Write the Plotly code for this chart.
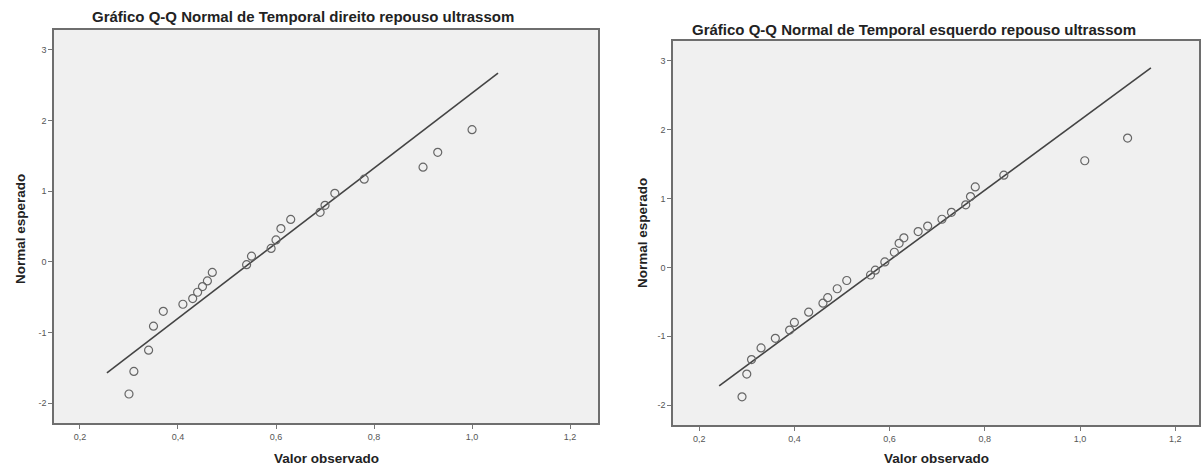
import plotly.graph_objects as go

# ---- data ----
left_title = "Gráfico Q-Q Normal de Temporal direito repouso ultrassom"
right_title = "Gráfico Q-Q Normal de Temporal esquerdo repouso ultrassom"
x_axis_title = "Valor observado"
y_axis_title = "Normal esperado"

left_obs = [0.30, 0.31, 0.34, 0.35, 0.37, 0.41, 0.43, 0.44, 0.45, 0.46, 0.47, 0.54,
            0.55, 0.59, 0.60, 0.61, 0.63, 0.69, 0.70, 0.72, 0.78, 0.90, 0.93, 1.00]
left_exp = [-1.87, -1.55, -1.25, -0.91, -0.70, -0.60, -0.52, -0.43, -0.35, -0.27, -0.15, -0.04,
            0.08, 0.19, 0.31, 0.47, 0.60, 0.70, 0.80, 0.97, 1.17, 1.34, 1.55, 1.87]
left_line_x = [0.255, 1.053]
left_line_y = [-1.57, 2.67]

right_obs = [0.29, 0.30, 0.31, 0.33, 0.36, 0.39, 0.40, 0.43, 0.46, 0.47, 0.49, 0.51, 0.56, 0.57,
             0.59, 0.61, 0.62, 0.63, 0.66, 0.68, 0.71, 0.73, 0.76, 0.77, 0.78, 0.84, 1.01, 1.10]
right_exp = [-1.88, -1.55, -1.34, -1.17, -1.03, -0.91, -0.80, -0.65, -0.52, -0.44, -0.31, -0.19, -0.11, -0.04,
             0.08, 0.22, 0.35, 0.43, 0.52, 0.60, 0.70, 0.80, 0.91, 1.03, 1.17, 1.34, 1.55, 1.88]
right_line_x = [0.242, 1.149]
right_line_y = [-1.72, 2.90]

x_tick_vals = [0.2, 0.4, 0.6, 0.8, 1.0, 1.2]
x_tick_text = ["0,2", "0,4", "0,6", "0,8", "1,0", "1,2"]
y_tick_vals = [-2, -1, 0, 1, 2, 3]
y_tick_text = ["-2", "-1", "0", "1", "2", "3"]

# ---- figure ----
W, H = 1202, 468
FONT = "Liberation Sans, Arial, sans-serif"
fig = go.Figure()

marker = dict(symbol="circle-open", size=8, color="#666666", line=dict(width=1.2, color="#666666"))
line_style = dict(color="#444444", width=1.6)

fig.add_trace(go.Scatter(x=left_line_x, y=left_line_y, mode="lines", line=line_style,
                         xaxis="x", yaxis="y", showlegend=False, hoverinfo="skip"))
fig.add_trace(go.Scatter(x=left_obs, y=left_exp, mode="markers", marker=marker,
                         xaxis="x", yaxis="y", showlegend=False))
fig.add_trace(go.Scatter(x=right_line_x, y=right_line_y, mode="lines", line=line_style,
                         xaxis="x2", yaxis="y2", showlegend=False, hoverinfo="skip"))
fig.add_trace(go.Scatter(x=right_obs, y=right_exp, mode="markers", marker=marker,
                         xaxis="x2", yaxis="y2", showlegend=False))

def px_x(p):
    return p / W

def px_y(p):
    return 1 - p / H

axis_common = dict(showgrid=False, zeroline=False, showline=True, linecolor="#6e6e6e",
                   linewidth=1.5, mirror=True, ticks="outside", ticklen=4, tickwidth=1,
                   tickcolor="#777777", tickfont=dict(family=FONT, size=9, color="#555555"),
                   fixedrange=True)

fig.update_layout(
    width=W, height=H,
    margin=dict(l=0, r=0, t=0, b=0),
    paper_bgcolor="white",
    plot_bgcolor="#f0f0f0",
    xaxis=dict(domain=[px_x(54), px_x(598)], range=[0.147, 1.257], anchor="y",
               tickvals=x_tick_vals, ticktext=x_tick_text, **axis_common),
    yaxis=dict(domain=[px_y(423), px_y(30)], range=[-2.28, 3.28], anchor="x",
               tickvals=y_tick_vals, ticktext=y_tick_text, **axis_common),
    xaxis2=dict(domain=[px_x(673), px_x(1199)], range=[0.145, 1.25], anchor="y2",
                tickvals=x_tick_vals, ticktext=x_tick_text, **axis_common),
    yaxis2=dict(domain=[px_y(425), px_y(41)], range=[-2.29, 3.29], anchor="x2",
                tickvals=y_tick_vals, ticktext=y_tick_text, **axis_common),
)

title_font = dict(family=FONT, size=15, color="#222222")
label_font = dict(family=FONT, size=13.5, color="#222222")
annotations = [
    dict(text="<b>%s</b>" % left_title, x=px_x(303), y=px_y(17), xref="paper", yref="paper",
         showarrow=False, font=title_font, xanchor="center", yanchor="middle"),
    dict(text="<b>%s</b>" % right_title, x=px_x(914), y=px_y(30), xref="paper", yref="paper",
         showarrow=False, font=title_font, xanchor="center", yanchor="middle"),
    dict(text="<b>%s</b>" % x_axis_title, x=px_x(326), y=px_y(458), xref="paper", yref="paper",
         showarrow=False, font=label_font, xanchor="center", yanchor="middle"),
    dict(text="<b>%s</b>" % x_axis_title, x=px_x(936), y=px_y(458), xref="paper", yref="paper",
         showarrow=False, font=label_font, xanchor="center", yanchor="middle"),
    dict(text="<b>%s</b>" % y_axis_title, x=px_x(20), y=px_y(229), xref="paper", yref="paper",
         showarrow=False, font=label_font, textangle=-90, xanchor="center", yanchor="middle"),
    dict(text="<b>%s</b>" % y_axis_title, x=px_x(642), y=px_y(233), xref="paper", yref="paper",
         showarrow=False, font=label_font, textangle=-90, xanchor="center", yanchor="middle"),
]
fig.update_layout(annotations=annotations)

fig.write_html("out.html")
